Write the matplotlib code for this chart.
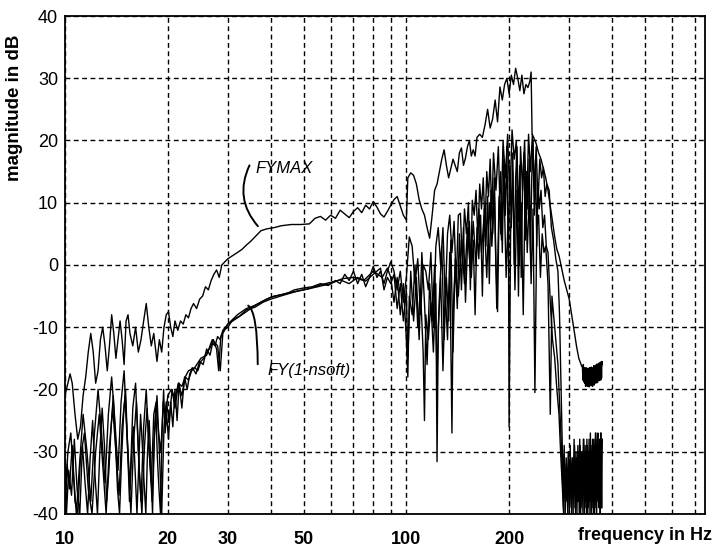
import matplotlib.pyplot as plt

plt.rcParams['font.family'] = ['Liberation Sans', 'DejaVu Sans']

# --- upper curve (Fymax) ---
fymax_f = [10.0, 10.2, 10.35, 10.5, 10.7, 10.9, 11.1, 11.3, 11.5, 11.7, 11.9, 12.1, 12.3, 12.5, 12.7, 12.9,
           13.1, 13.3, 13.5, 13.7, 13.9, 14.1, 14.3, 14.5, 14.7, 14.9, 15.1, 15.3, 15.5, 15.8, 16.1, 16.4,
           16.7, 17.0, 17.3, 17.6, 17.9, 18.2, 18.6, 18.9, 19.2, 19.5, 19.8, 20.1, 20.4, 20.7, 21.0, 21.4,
           21.8, 22.2, 22.6, 23.0, 23.4, 23.8, 24.3, 24.8, 25.3, 25.8, 26.3, 26.8, 27.3, 27.8, 28.3, 28.8,
           29.4, 30, 31, 32, 33, 34, 35, 36, 37.5, 39, 41, 43, 46, 49, 52, 54, 56, 58, 60, 62, 64, 66, 68,
           70, 72, 74, 76, 78, 80, 82, 84, 86, 88, 90, 92, 94, 96, 98, 100, 101, 103, 105, 107, 109, 111,
           113, 115, 117, 119, 121, 123, 125, 127, 129, 131, 133, 135, 137, 139, 141, 143, 145, 147, 149,
           151, 153, 155, 157, 159, 161, 164, 167, 170, 173, 176, 179, 182, 185, 188, 191, 194, 197, 200,
           203, 206, 209, 212, 215, 218, 221, 224, 227, 230, 232, 233.5, 236, 240, 244, 248, 252, 256, 260,
           264, 268, 272, 276, 280, 285, 290, 295, 300, 305, 310, 315, 320, 325,
           328, 329, 330, 331, 332, 333, 334, 335, 336, 337, 338, 339, 340, 341, 342, 343, 344, 345, 346,
           347, 348, 349, 350, 351, 352, 353, 354, 355, 356, 357, 358, 359, 360, 361, 362, 363, 364, 365,
           366, 367, 368, 369, 370, 371, 372, 373, 374, 375]
fymax_db = [-21, -19, -17.5, -19, -24, -28, -26, -21, -18, -14, -11, -14, -19, -17, -12, -10,
            -13, -17, -13, -8, -11, -15, -12, -9, -12, -16, -9, -8, -11, -13, -10, -14,
            -12, -9, -6.2, -10, -13, -11, -15.5, -12, -14, -10, -8, -7.5, -10, -11.5, -9, -10.5,
            -9, -9.5, -8, -8.5, -7, -6.2, -7, -5.5, -5, -3.5, -4, -2.5, -1.5, -0.8, -2, 0,
            0.5, 1.0, 1.5, 2, 2.5, 3.2, 3.8, 4.5, 5.5, 5.8, 6, 6.3, 6.5, 6.5, 6.6, 7.5, 7.8, 7.2, 8, 7.5, 8.8, 8.2, 7.6,
            8.6, 9.2, 8.4, 9.6, 9, 10.2, 9.3, 8.2, 7.7, 8.6, 9.6, 10.5, 11, 9.5, 8, 7.2, 14, 14.8, 14.4, 13, 10.5, 9,
            8, 6, 4.3, 8, 12, 13, 15, 17, 18.5, 16, 14, 15.5, 17, 16, 15, 18, 18.8, 16, 17.2,
            19, 20, 17.5, 18.5, 17.5, 20.5, 21, 20.5, 22.5, 25, 22, 23.5, 26.5, 23, 28.6, 26.5, 29, 30, 27.5,
            30.5, 29, 31.6, 30, 28, 30.5, 27.5, 29, 28.5, 29.5, 31, 21, 20.5, 19.5, 18, 17, 15.5, 14, 12,
            9.5, 7, 4.5, 2.5, 1.5, -0.5, -2.5, -4, -5.5, -8, -10.5, -13, -15, -16,
            -16.5, -18.5, -16, -18.8, -16.5, -19, -17, -19.5, -16.5, -19.2, -16.8, -19.5, -16.6, -19.3, -17, -19.6, -16.5, -19.2, -16.8,
            -19.4, -16.4, -19.1, -16.9, -19.5, -16.5, -19, -16.2, -19.3, -16.6, -18.8, -16.1, -19, -16.5, -18.7, -15.9, -18.9, -16.3, -18.5,
            -15.8, -18.6, -16, -18.4, -15.6, -18.5, -15.8, -18.2, -15.5, -16]

# --- lower curve Fy(1-nsoft) ---
fysoft_f = [10.0, 10.2, 10.4, 10.6, 10.8, 11.0, 11.3, 11.6, 11.9, 12.2, 12.5, 12.8, 13.1, 13.4, 13.7, 14.0,
            14.3, 14.6, 14.9, 15.2, 15.5, 15.8, 16.1, 16.4, 16.7, 17.0, 17.3, 17.6, 17.9, 18.2, 18.5, 18.8,
            19.1, 19.4, 19.7, 20.0, 20.5, 21.0, 21.5, 22.0, 22.5, 23.0, 23.5, 24.0, 24.5, 25.0, 25.5, 26.0,
            26.5, 27.0, 27.5, 28.0, 28.5, 29.0, 29.5, 30, 31, 32, 33, 34, 35, 36, 37.5, 39, 41, 43, 45, 47,
            50, 53, 56, 59, 62, 64, 66, 68, 70, 72, 74, 76, 78, 80, 82, 84, 86, 88, 90, 92, 94, 96, 98, 100,
            102, 104, 106, 108, 110, 112, 114, 116, 118, 120, 122, 124, 126, 128, 130, 132, 134, 136, 138,
            140, 142, 144, 146, 148, 150, 152, 154, 156, 158, 160, 162, 164, 166, 168, 170, 172, 174, 176,
            178, 180, 183, 186, 189, 192, 195, 198, 201, 204, 207, 210, 213, 216, 219, 222, 225, 228, 231,
            234, 237, 240, 243, 246, 249, 252, 255, 258, 262, 266, 270, 274, 278, 281, 284, 286,
            288, 290, 292, 294, 296, 298, 300, 302, 304, 306, 308, 310, 312, 314, 316, 318, 320, 322, 324,
            326, 328, 330, 332, 334, 336, 338, 340, 342, 344, 346, 348, 350, 352, 354, 356, 358, 360, 362,
            364, 366, 368, 370, 372, 374]
fysoft_db = [-38, -30, -27, -34, -40, -33, -24, -30, -38, -27, -20, -27, -35, -24, -18, -25,
             -33, -22, -17, -27, -36, -23, -19, -30, -38, -26, -20, -29, -35, -24, -22, -27,
             -30, -22, -25, -21, -20, -21.5, -19, -19.5, -18, -18.5, -17, -16.5, -17, -15.5, -15, -14,
             -13.5, -12.5, -13, -11.5, -12, -10.5, -10, -9.5, -9, -8.5, -8, -7.5, -7, -6.5, -6, -5.5, -5, -4.8, -4.5, -4,
             -3.7, -3.5, -3, -3.3, -2.5, -3, -1.5, -2.5, -1, -3, -1.5, -3.5, -2, -0.2, -2, -1, -3, -1, 0.5, -1, -4, -1, -6, -2,
             4.5, 3, -3, 1, -8, 0, -1, -4, 2, -10, 3, 6, 0, 6, -6, 5, 8, 2, 7,
             -3, 8, 8.3, 0, 9, 5, 10, -4, 10.4, 8, 12, 4, 13, 9, 14, 6, 15, 11, 17,
             8, 18, 12, 19, 5, 20, 14, 21, 10, 21.7, 17, 20, -5, 19, 12, 20, 8, 21, 15,
             21, 12, 19, 10, 17, 14, 15.7, 11, 13, 12, 6, 4, 1, -1, -8, -20, -28,
             -36, -29, -40, -31, -38, -30, -40, -29, -37, -31, -40, -28, -39, -30, -40, -29, -38, -28, -40,
             -30, -37, -28, -40, -29, -39, -28, -40, -30, -38, -27, -40, -29, -39, -28, -40, -27, -38, -29,
             -27, -39, -28, -40, -27, -39]

# --- third curve ---
fyc_f = [10.0, 10.15, 10.3, 10.5, 10.7, 10.9, 11.1, 11.4, 11.7, 12.0, 12.3, 12.6, 12.9, 13.2, 13.5, 13.8,
         14.1, 14.4, 14.7, 15.0, 15.3, 15.6, 15.9, 16.2, 16.5, 16.8, 17.1, 17.4, 17.7, 18.0, 18.3, 18.6,
         18.9, 19.2, 19.5, 19.8, 20.2, 20.6, 21, 21.5, 22, 22.5, 23, 24, 25, 26, 27, 28, 28.5, 29, 30, 32,
         34, 36, 38, 40, 45, 50, 55, 60, 65, 70, 75, 80, 85, 88, 90, 92, 94, 96, 98, 100, 101, 102, 104,
         106, 108, 110, 112, 113, 114, 116, 118, 120, 122, 123, 124, 126, 128, 130, 132, 134, 136, 137,
         139, 142, 145, 148, 151, 154, 157, 160, 163, 166, 169, 172, 175, 178, 181, 184, 187, 190, 193,
         196, 199, 200, 202, 205, 208, 211, 214, 217, 220, 223, 226, 229, 232, 235, 238, 241, 244, 247,
         250, 253, 256, 260, 264, 267, 270, 274, 278, 281, 284, 287,
         289, 291, 293, 295, 297, 299, 301, 303, 305, 307, 309, 311, 313, 315, 317, 319, 321, 323, 325,
         327, 329, 331, 333, 335, 337, 339, 341, 343, 345, 347, 349, 351, 353, 355, 357, 359, 361, 363,
         365, 367, 369, 371, 373, 375]
fyc_db = [-40, -32, -36, -29, -38, -40, -31, -27, -36, -40, -30, -24, -32, -40, -29, -23,
          -30, -37, -26, -21, -31, -40, -28, -22, -33, -40, -29, -23, -31, -38, -27, -21,
          -30, -40, -26, -22, -25, -20, -23, -19, -21, -18, -17, -16.5, -15, -14.5, -12, -13, -17, -11, -9.5, -8,
          -7, -6.5, -5.8, -5.2, -4.5, -4, -3.5, -3, -2.2, -2, -2.5, -1, -2, -0.5, -2, -6, -2, -8, -3, -12, -18, -5, -8,
          0, -10, -4, -14, -25, -8, -12, -6, -14, -3, -31.6, -10, -2, -17, -4, -12, 2, -27, -8,
          0, -5, 4, -3, 6, -1, 7, 0, 9, 2, 8, -2, 10, 3, 12, -7, 11, 4, 14,
          -2, 9, -26, 5, 15, -4, 12, 0, 10, -8, 14, 2, 11, -3, 9, -20.5, 6, 8, -2,
          5, 2, 3, -3, -24, -5, -8, -12, -16, -22, -28, -35,
          -40, -32, -38, -33, -40, -30, -39, -32, -40, -31, -37, -29, -40, -31, -38, -30, -40, -29, -39,
          -30, -40, -28, -38, -30, -40, -29, -39, -28, -40, -30, -38, -28, -40, -29, -39, -27, -40, -28,
          -38, -29, -40, -27, -39, -28]

# --- fourth curve ---
fyd_f = [10.0, 10.1, 10.25, 10.45, 10.65, 10.85, 11.05, 11.25, 11.45, 11.65, 11.85, 12.05, 12.25, 12.45,
         12.65, 12.85, 13.05, 13.25, 13.45, 13.65, 13.85, 14.05, 14.25, 14.45, 14.65, 14.85, 15.05, 15.25,
         15.45, 15.65, 15.85, 16.05, 16.25, 16.45, 16.65, 16.85, 17.05, 17.25, 17.45, 17.65, 17.85, 18.05,
         18.25, 18.45, 18.65, 18.85, 19.05, 19.25, 19.45, 19.65, 19.85, 20.1, 20.4, 20.7, 21.0, 21.3, 21.6,
         22.0, 22.4, 22.8, 23.2, 23.6, 24.2, 24.8, 25.4, 26.0, 26.6, 27.2, 27.8, 28.2, 28.6, 29.2, 30, 31,
         32.5, 34, 36, 38, 40, 44, 48, 52, 56, 60, 64, 68, 72, 76, 80, 84, 86, 88, 90, 92, 94, 96, 98, 100,
         101, 103, 105, 107, 109, 111, 113, 115, 117, 119, 121, 123, 125, 127, 129, 131, 133, 135, 137,
         139, 141, 143, 145, 147, 149, 151, 153, 155, 157, 159, 161, 163, 165, 167, 169, 171, 173, 175,
         177, 179, 181, 183, 185, 187, 189, 191, 193, 195, 197, 199, 201, 203, 205, 207, 209, 211, 213,
         215, 217, 219, 221, 223, 225, 227, 229, 231, 233, 235, 237, 239, 241, 243, 245, 248, 251, 254,
         257, 260, 264, 268, 272, 276, 280, 283, 286, 289]
fyd_db = [-30, -40, -33, -37, -28, -36, -40, -29, -35, -40, -31, -25, -34, -40,
          -30, -23, -29, -38, -33, -26, -21, -28, -36, -40, -31, -24, -20, -29,
          -38, -31, -26, -33, -40, -32, -24, -29, -35, -40, -30, -25, -32, -40,
          -28, -23, -31, -36, -40, -27, -20, -27, -24, -28, -22, -26, -20, -25, -19,
          -23, -18, -20, -17.5, -16.5, -17.5, -15.5, -16, -13.5, -14.5, -12, -13.5, -17, -11.5, -10.5, -10, -8.8,
          -8.2, -7.2, -6.8, -6, -5.5, -4.8, -4.2, -3.8, -3.2, -2.8, -2.4, -3, -2, -2.6, -1.5, -0.5, -4, -2, -3, -1.5, -7, -3, -9, -4,
          -15, -1, -9, -2, -12, 2, -6, -16, -3, -9, 0, -18, -5, 3, -12, -2, -9, 4, -14,
          1, -7, 5, -4, 6, -6, 3, 7, -2, 4, -8, 6, 1, 8, -5, 9, 3, 11, -3,
          12, 5, 14, 0, -7.5, 10, 15, 2, 17, 8, 19, 1, 16, 6, 18, 0, 14, 19, 7,
          16, -2, 13, 18, 4, 15, 9, 17, 2, 14, 20, 8, 17, 3, 13, 9, 12, 6, 8,
          3, 2, -6, -12, -15, -20, -24, -30, -35, -40]

xtick_vals = [10, 20, 30, 40, 50, 60, 70, 80, 90, 100, 200, 300, 400, 500, 600, 700]
xtick_text = ['10', '20', '30', '', '50', '', '', '', '', '100', '200', '', '', '', '', '']
ytick_vals = [-40, -30, -20, -10, 0, 10, 20, 30, 40]

fig = plt.figure(figsize=(7.18, 5.52), dpi=100)
ax = fig.add_axes([0.0905, 0.069, 0.8915, 0.902])

lw = 1.0
ax.plot(fyd_f, fyd_db, color='black', lw=lw)
ax.plot(fyc_f, fyc_db, color='black', lw=lw)
ax.plot(fysoft_f, fysoft_db, color='black', lw=lw)
ax.plot(fymax_f, fymax_db, color='black', lw=lw)

ax.set_xscale('log')
ax.set_xlim(10, 750)
ax.set_ylim(-40, 40)
ax.set_xticks(xtick_vals)
ax.set_xticklabels(xtick_text, fontweight='bold', fontsize=13)
ax.minorticks_off()
ax.set_yticks(ytick_vals)
ax.set_yticklabels([str(v) for v in ytick_vals], fontsize=13)
ax.tick_params(axis='x', length=0, pad=12)
ax.tick_params(axis='y', length=0, pad=5)
ax.grid(True, color='black', linestyle=(0, (3.5, 2.5)), linewidth=1.0)

for s in ax.spines.values():
    s.set_color('black')
    s.set_linewidth(1.3)

ax.set_xlabel('frequency in Hz', fontweight='bold', fontsize=13)
ax.xaxis.set_label_coords(0.906, -0.026)
ax.xaxis.label.set_va('top')
ax.set_ylabel('magnitude in dB', fontweight='bold', fontsize=13.5)
ax.yaxis.set_label_coords(-0.066, 0.815)

# handwritten annotations
ax.text(44, 15.5, 'FYMAX', style='italic', fontsize=12, ha='center', va='center')
ax.annotate('', xy=(37.2, 5.9), xytext=(35, 16.4),
            arrowprops=dict(arrowstyle='-', color='black', lw=1.4,
                            connectionstyle='arc3,rad=0.35'))
ax.text(39.3, -16.9, 'FY(1-nsoft)', style='italic', fontsize=12, ha='left', va='center')
ax.annotate('', xy=(33.8, -6.4), xytext=(36.7, -16.4),
            arrowprops=dict(arrowstyle='-', color='black', lw=1.4,
                            connectionstyle='angle3,angleA=90,angleB=0'))

plt.savefig('out.png', dpi=100)
